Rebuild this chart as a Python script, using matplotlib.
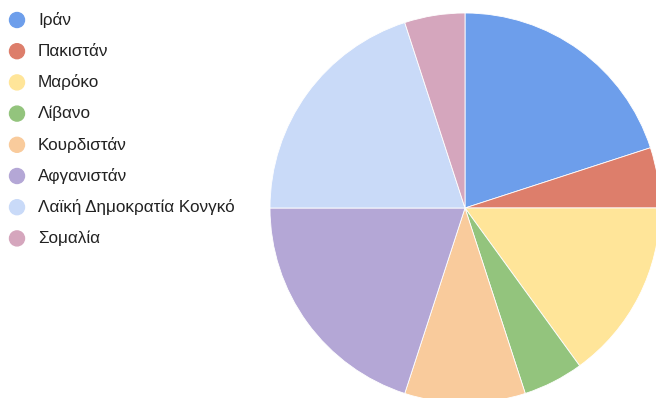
import matplotlib.pyplot as plt
from matplotlib.patches import Circle

# data
countries = ['Ιράν', 'Πακιστάν', 'Μαρόκο', 'Λίβανο', 'Κουρδιστάν',
             'Αφγανιστάν', 'Λαϊκή Δημοκρατία Κονγκό', 'Σομαλία']
values = [20, 5, 15, 5, 10, 20, 20, 5]
colors = ['#6d9eeb', '#dd7e6b', '#ffe599', '#93c47d', '#f9cb9c',
          '#b4a7d6', '#c9daf8', '#d5a6bd']

plt.rcParams['font.family'] = ['Liberation Sans', 'DejaVu Sans']

W, H = 656, 398
fig = plt.figure(figsize=(W / 100, H / 100), dpi=100)

# pie centre (465, 208) px, radius 195 px
cx, cy, r = 465, 208, 195
ax = fig.add_axes([(cx - r) / W, (H - cy - r) / H, 2 * r / W, 2 * r / H])
ax.pie(values, colors=colors, startangle=90, counterclock=False,
       wedgeprops=dict(edgecolor='white', linewidth=0.6))
ax.set_xlim(-1, 1)
ax.set_ylim(-1, 1)
ax.axis('off')

# legend drawn by hand (positions in inches, 100 px per inch)
for i, (name, col) in enumerate(zip(countries, colors)):
    y = 20 + i * 31.2
    fig.patches.append(Circle((17 / 100, (H - y) / 100), 0.075, color=col,
                              transform=fig.dpi_scale_trans, figure=fig))
    fig.text(38 / W, 1 - y / H, name, fontsize=12.3, color='#222222',
             va='center', ha='left')

plt.savefig('out.png', dpi=100)
